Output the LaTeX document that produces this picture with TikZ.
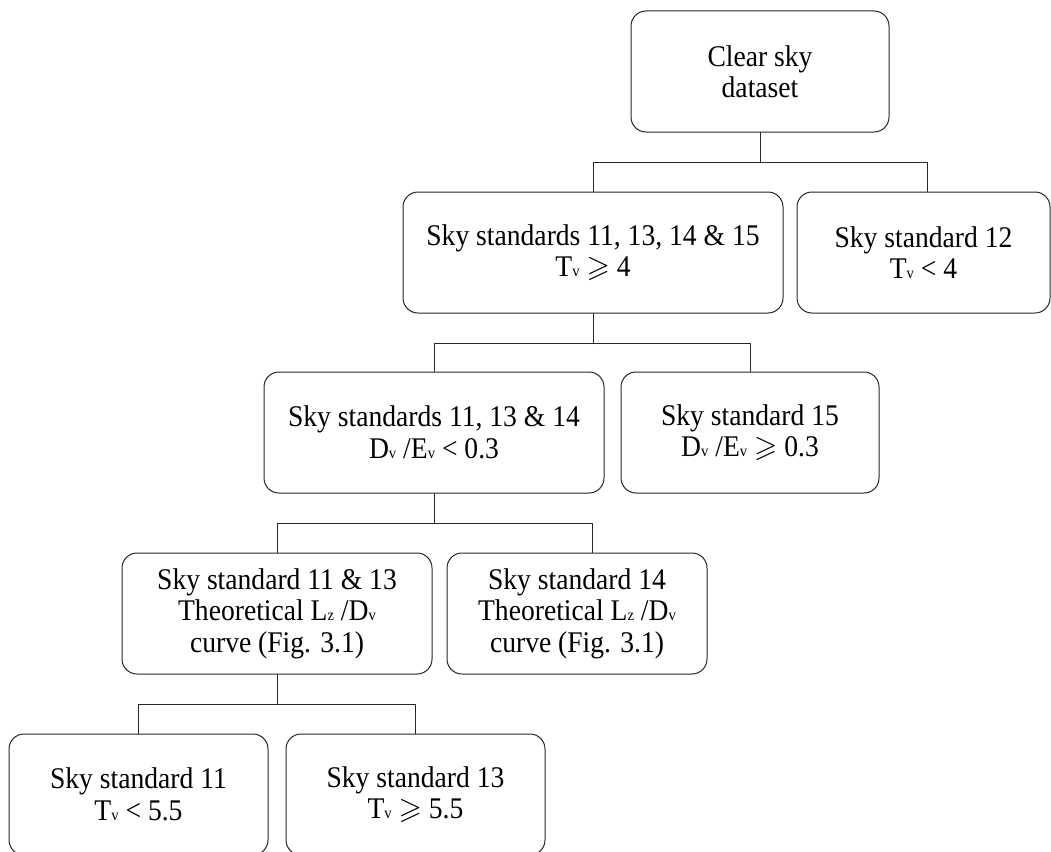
\documentclass[tikz,border=0pt]{standalone}
\usepackage{amssymb}
\usepackage{fontspec}
\setmainfont{Liberation Serif}[FakeStretch=0.92]
\newcommand{\lowidx}[1]{{\fontsize{16}{16}\selectfont #1}}
\begin{document}
\begin{tikzpicture}[x=1pt, y=-1pt, line cap=round, line join=round, line width=1pt, draw=black!85]
			\tikzset{skybox/.style={draw, rounded corners=15pt, align=center, inner sep=0pt, minimum height=121pt, font=\fontsize{30}{31.5}\selectfont}}
			\useasboundingbox (0,0) rectangle (1051,851);
			\node[skybox, minimum width=258pt] (dataset) at (760,71.5) {Clear sky\\dataset};
			\node[skybox, minimum width=380pt] (sA) at (593,252.5) {Sky standards 11, 13, 14 \& 15\\T\lowidx{v} $\geqslant$ 4};
			\node[skybox, minimum width=253pt] (s12) at (923.5,252.5) {Sky standard 12\\T\lowidx{v} < 4};
			\node[skybox, minimum width=340pt] (sB) at (434,432.5) {Sky standards 11, 13 \& 14\\D\lowidx{v} /E\lowidx{v} < 0.3};
			\node[skybox, minimum width=258pt] (s15) at (750,432.5) {Sky standard 15\\D\lowidx{v} /E\lowidx{v} $\geqslant$ 0.3};
			\node[skybox, minimum width=310pt] (sC) at (277,613.5) {Sky standard 11 \& 13\\ Theoretical L\lowidx{z} /D\lowidx{v}\\curve (Fig. 3.1)};
			\node[skybox, minimum width=260pt] (s14) at (577,613.5) {Sky standard 14\\Theoretical L\lowidx{z} /D\lowidx{v}\\curve (Fig. 3.1)};
			\node[skybox, minimum width=259pt] (s11) at (138.5,794.5) {Sky standard 11\\T\lowidx{v} < 5.5};
			\node[skybox, minimum width=259pt] (s13) at (415.5,794.5) {Sky standard 13\\T\lowidx{v} $\geqslant$ 5.5};
			\draw (dataset.south) -- ++(0,30) coordinate (bus1);
			\draw (bus1) -| (sA.north);
			\draw (bus1) -| ([xshift=3.5pt]s12.north);
			\draw (sA.south) -- ++(0,30) coordinate (bus2);
			\draw (bus2) -| (sB.north);
			\draw (bus2) -| (s15.north);
			\draw (sB.south) -- ++(0,30) coordinate (bus3);
			\draw (bus3) -| (sC.north);
			\draw (bus3) -| ([xshift=15pt]s14.north);
			\draw (sC.south) -- ++(0,30) coordinate (bus4);
			\draw (bus4) -| (s11.north);
			\draw (bus4) -| (s13.north);
		\end{tikzpicture}
\end{document}
